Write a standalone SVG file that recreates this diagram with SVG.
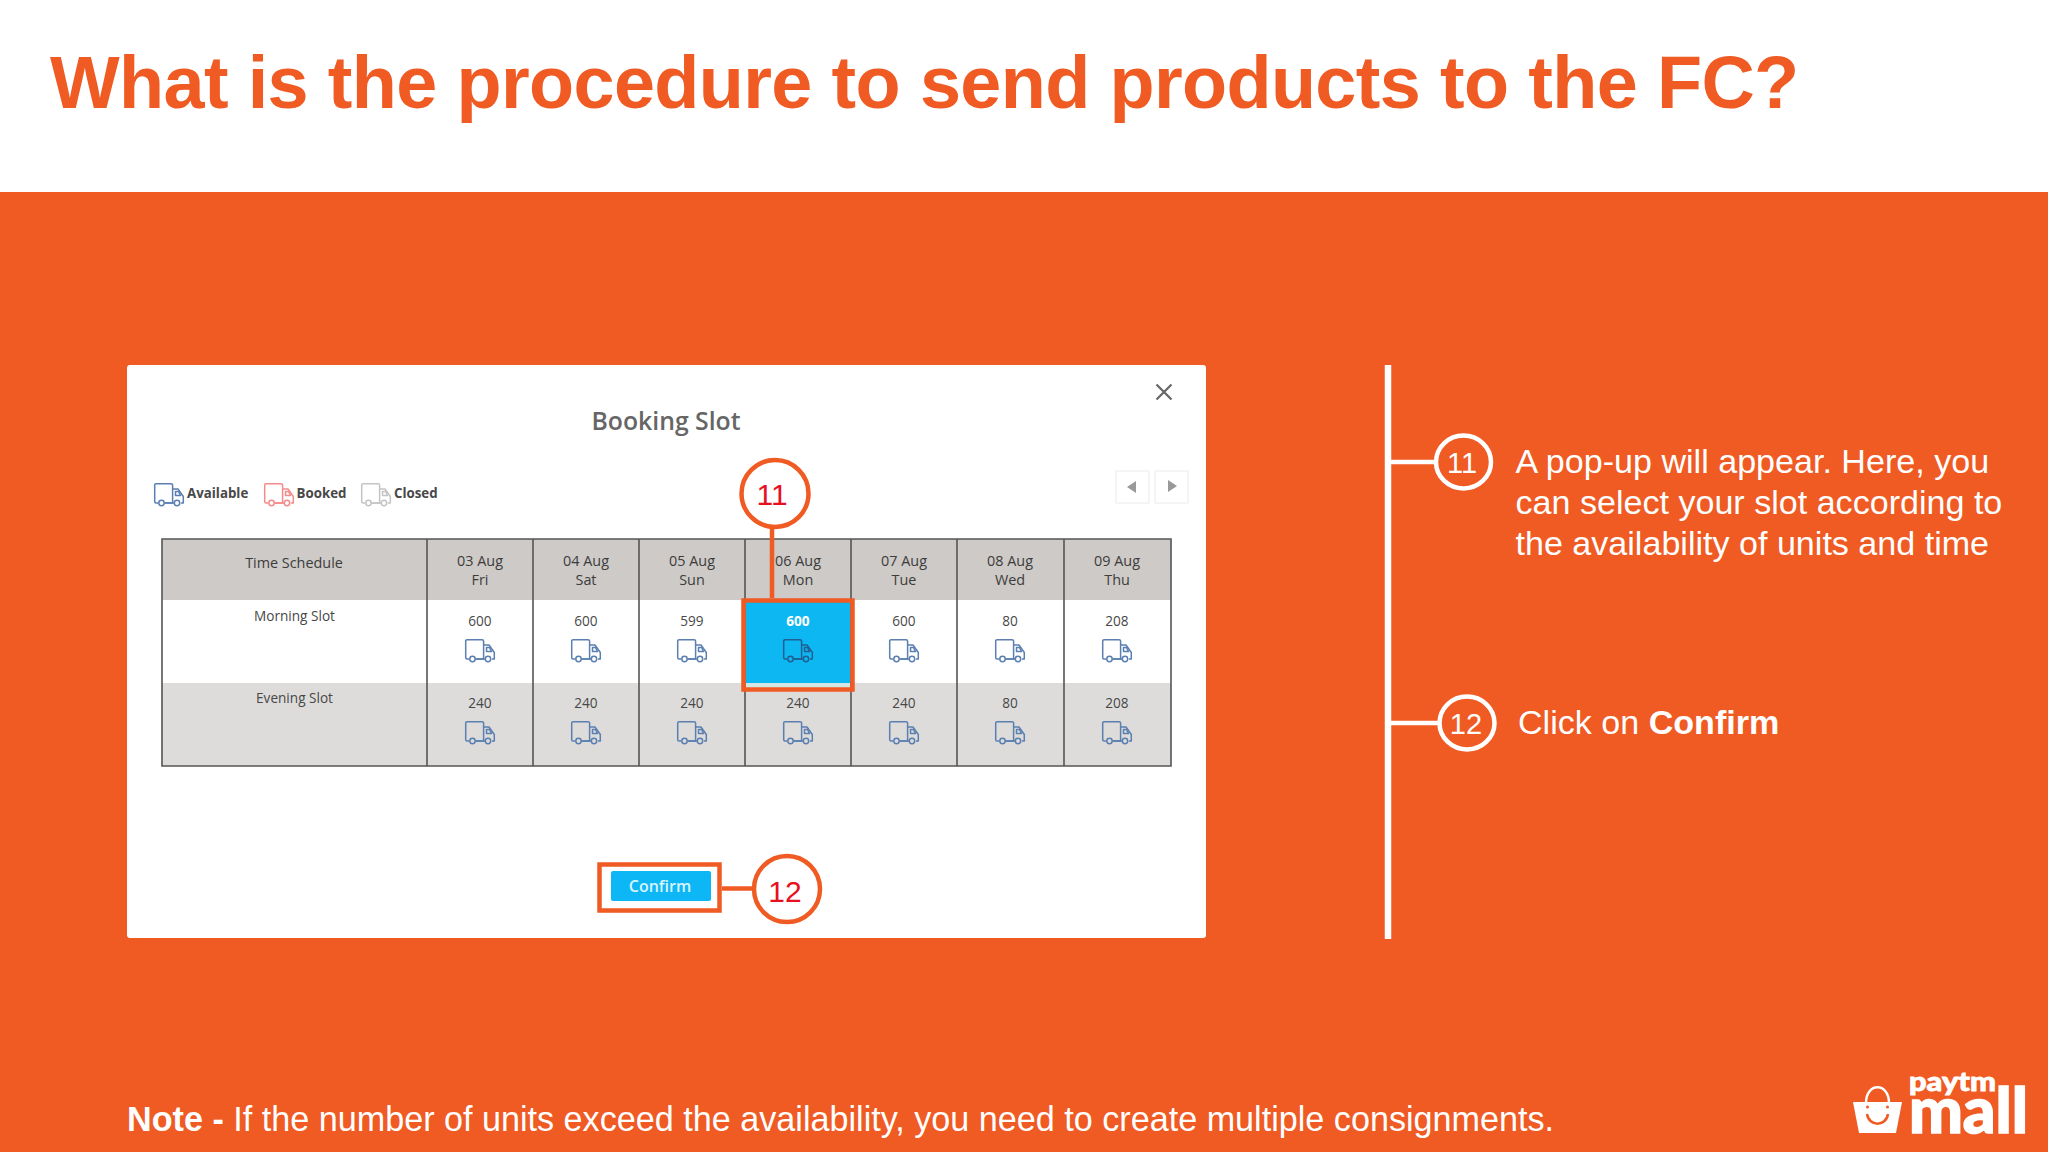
<svg xmlns="http://www.w3.org/2000/svg" xmlns:xlink="http://www.w3.org/1999/xlink" width="2048" height="1152" viewBox="0 0 2048 1152">
<style>
text{font-family:"Liberation Sans",Arial,sans-serif}
.os{font-family:"Open Sans","Noto Sans",sans-serif}
.cell{font-size:13.6px;fill:#484848;text-anchor:middle}
.hd{font-size:14.4px;fill:#3c3c3c;text-anchor:middle}
.leg{font-size:13.3px;fill:#484848;font-weight:700}
.grid{stroke:#555;stroke-width:1.6;fill:none}
.ora{fill:none;stroke:#f05a23;stroke-width:4.5}
.wht{fill:none;stroke:#fff;stroke-width:4.5}
.red{font-size:30px;fill:#e8101e;text-anchor:middle}
.wn{font-size:29px;fill:#fff;text-anchor:middle}
.body{font-size:34.1px;fill:#fff}
.nav{fill:#fff;stroke:#eeeeee;stroke-width:1.2}
.tb{fill:none;stroke-width:1.5;stroke-linejoin:round}
.logo{font-family:Lato,sans-serif;font-weight:900;fill:#fff;stroke:#fff}
</style>
<defs>
<symbol id="truck" viewBox="0 0 30 23" width="30" height="23" overflow="visible">
<path class="tb" d="M4 20H2Q.7 20 .7 18.500V2Q.7.700 2 .700H17Q18.600.700 18.600 2V20H11"/>
<path class="tb" d="M18.600 6H24L29.300 13.500V20H27"/>
<path class="tb" d="M21.500 8.500H24.500L26.500 12.500H21.500Z"/>
<circle cx="7.500" cy="20" r="2.700" fill="none" stroke-width="1.500"/>
<circle cx="23" cy="20" r="2.700" fill="none" stroke-width="1.500"/>
<path class="tb" d="M10.500 20H20"/>
</symbol>
</defs>
<rect width="2048" height="1152" fill="#f05a23"/>
<rect width="2048" height="192" fill="#fff"/>
<g id="title"><text x="50" y="108" font-size="73.800" font-weight="700" fill="#f05a23" letter-spacing="-0.630">What is the procedure to send products to the FC?</text></g>

<g id="popup">
<rect x="127" y="365" width="1079" height="573" rx="3" fill="#fff"/>
<text class="os" x="666" y="430" font-size="24.800" font-weight="600" fill="#666" text-anchor="middle">Booking Slot</text>
<path d="M1156.500 384.500L1171.500 399.500M1171.500 384.500L1156.500 399.500" stroke="#666" stroke-width="2.200" fill="none"/>
<rect class="nav" x="1116" y="471" width="33" height="32"/><path d="M1127 487L1136 481V493Z" fill="#999"/>
<rect class="nav" x="1155" y="471" width="33" height="32"/><path d="M1177 486L1168 480V492Z" fill="#999"/>
</g>

<g id="legend">
<use href="#truck" x="154" y="483" stroke="#5a7fb0"/><text class="os leg" x="187" y="498">Available</text>
<use href="#truck" x="264" y="483" stroke="#f58a8a"/><text class="os leg" x="296.500" y="498">Booked</text>
<use href="#truck" x="361" y="483" stroke="#c4c4c4"/><text class="os leg" x="394" y="498">Closed</text>
</g>

<g id="slot-table">
<rect x="162" y="539" width="1009" height="61" fill="#cdcac7"/>
<rect x="162" y="683" width="1009" height="83" fill="#dddcdb"/>
<rect x="746" y="602" width="104" height="81" fill="#0db7f2"/>
<rect x="746" y="683" width="104" height="6" fill="#d3e6e6"/>
<path class="grid" d="M162 539H1171V766H162ZM427 539V766M533 539V766M639 539V766M745 539V766M851 539V766M957 539V766M1064 539V766"/>
<text class="os hd" x="294" y="568">Time Schedule</text>
<text class="os cell" x="294.500" y="621">Morning Slot</text>
<text class="os cell" x="294.500" y="703">Evening Slot</text>
<text class="os hd" x="480" y="566">03 Aug</text><text class="os hd" x="480" y="585">Fri</text>
<text class="os hd" x="586" y="566">04 Aug</text><text class="os hd" x="586" y="585">Sat</text>
<text class="os hd" x="692" y="566">05 Aug</text><text class="os hd" x="692" y="585">Sun</text>
<text class="os hd" x="798" y="566">06 Aug</text><text class="os hd" x="798" y="585">Mon</text>
<text class="os hd" x="904" y="566">07 Aug</text><text class="os hd" x="904" y="585">Tue</text>
<text class="os hd" x="1010" y="566">08 Aug</text><text class="os hd" x="1010" y="585">Wed</text>
<text class="os hd" x="1117" y="566">09 Aug</text><text class="os hd" x="1117" y="585">Thu</text>
<text class="os cell" x="480" y="626">600</text><text class="os cell" x="586" y="626">600</text><text class="os cell" x="692" y="626">599</text>
<text class="os cell" x="798" y="626" style="fill:#fff;font-weight:700">600</text>
<text class="os cell" x="904" y="626">600</text><text class="os cell" x="1010" y="626">80</text><text class="os cell" x="1117" y="626">208</text>
<text class="os cell" x="480" y="708">240</text><text class="os cell" x="586" y="708">240</text><text class="os cell" x="692" y="708">240</text><text class="os cell" x="798" y="708">240</text><text class="os cell" x="904" y="708">240</text><text class="os cell" x="1010" y="708">80</text><text class="os cell" x="1117" y="708">208</text>
<g stroke="#5a7fb0">
<use href="#truck" x="465" y="639"/><use href="#truck" x="571" y="639"/><use href="#truck" x="677" y="639"/>
<use href="#truck" x="783" y="639" stroke="#1f5f92"/>
<use href="#truck" x="889" y="639"/><use href="#truck" x="995" y="639"/><use href="#truck" x="1102" y="639"/>
<use href="#truck" x="465" y="721"/><use href="#truck" x="571" y="721"/><use href="#truck" x="677" y="721"/><use href="#truck" x="783" y="721"/><use href="#truck" x="889" y="721"/><use href="#truck" x="995" y="721"/><use href="#truck" x="1102" y="721"/>
</g>
</g>

<g id="confirm-button">
<rect x="611" y="871" width="100" height="30" rx="2" fill="#0db7f5"/>
<text class="os" x="660" y="892" font-size="16" font-weight="600" fill="#d8f4ff" text-anchor="middle">Confirm</text>
</g>

<g id="connectors">
<path class="ora" d="M772 525V598"/>
<path class="ora" d="M722 888.500H752"/>
<path d="M1391 462H1434M1391 723H1438" stroke="#fff" stroke-width="4.500" fill="none"/>
<path d="M1388 365V939" stroke="#fff" stroke-width="6.500" fill="none"/>
</g>

<g id="highlight-slot"><rect class="ora" x="743.500" y="600.500" width="109" height="89"/></g>
<g id="highlight-confirm"><rect class="ora" x="599.500" y="864.500" width="120" height="46"/></g>

<g id="callout-11">
<circle cx="775" cy="493.500" r="33.500" class="ora" style="fill:#fff"/>
<text class="red" x="772" y="505">11</text>
</g>
<g id="callout-12">
<circle cx="787" cy="889" r="33" class="ora" style="fill:#fff"/>
<text class="red" x="785" y="902">12</text>
</g>

<g id="step-11">
<ellipse cx="1463.500" cy="462" rx="27.500" ry="26.500" class="wht"/>
<text class="wn" x="1462" y="472.500">11</text>
<text class="body" x="1515.500" y="472.500">A pop-up will appear. Here, you</text>
<text class="body" x="1515.500" y="513.500">can select your slot according to</text>
<text class="body" x="1515.500" y="554.500">the availability of units and time</text>
</g>
<g id="step-12">
<ellipse cx="1467" cy="723" rx="27.500" ry="26.500" class="wht"/>
<text class="wn" x="1466" y="733.500">12</text>
<text class="body" x="1518" y="734">Click on <tspan font-weight="700">Confirm</tspan></text>
</g>

<g id="note"><text x="127" y="1131" style="font-size:34.160px" fill="#fff"><tspan font-weight="700">Note - </tspan>If the number of units exceed the availability, you need to create multiple consignments.</text></g>

<g id="logo">
<path d="M1853 1102H1902L1896 1133H1859Z" fill="#fff"/>
<path d="M1866 1103C1866 1082 1889 1082 1889 1103" fill="none" stroke="#fff" stroke-width="2.500"/>
<circle cx="1867.500" cy="1107" r="1.500" fill="#f05a23"/><circle cx="1887.500" cy="1107" r="1.500" fill="#f05a23"/>
<path d="M1867 1114C1869 1127 1886 1127 1888 1114" fill="none" stroke="#f05a23" stroke-width="2.500"/>
<text class="logo" x="1909" y="1091" font-size="27" stroke-width="0.800" textLength="87" lengthAdjust="spacingAndGlyphs">paytm</text>
<text class="logo" x="1909" y="1133" font-size="62" stroke-width="1.500" textLength="119" lengthAdjust="spacingAndGlyphs">mall</text>
</g>
</svg>
